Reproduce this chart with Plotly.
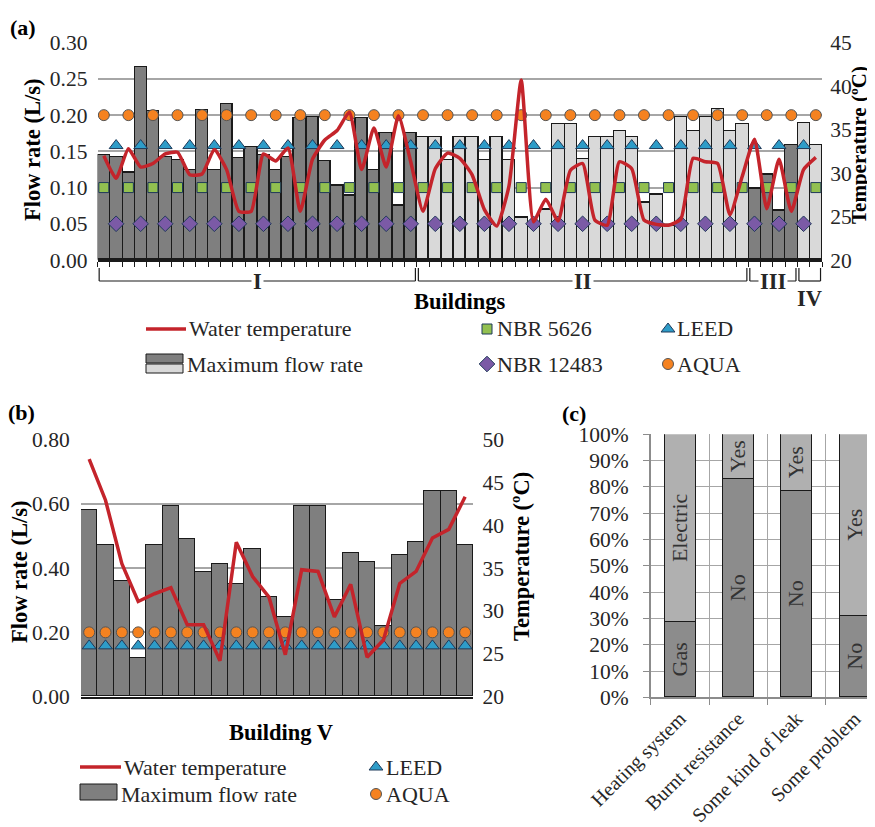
import plotly.graph_objects as go

# page body has an 8 px margin, so the figure is placed at (8, 8) in the 875x827 window
OFF = 8
FW, FH = 867, 819

# ---------------- Panel (a) data ----------------
building_names = ["I", "II", "III", "IV"]
flow_I = [0.145, 0.142, 0.120, 0.267, 0.206, 0.143, 0.139, 0.124, 0.207, 0.124, 0.216, 0.141, 0.157,
          0.145, 0.124, 0.143, 0.197, 0.198, 0.137, 0.102, 0.089, 0.197, 0.124, 0.176, 0.075, 0.176]
flow_II = [0.170, 0.170, 0.139, 0.170, 0.170, 0.139, 0.170, 0.139, 0.059, 0.050, 0.069, 0.188, 0.188, 0.140,
           0.170, 0.170, 0.179, 0.170, 0.079, 0.090, 0.048, 0.198, 0.179, 0.198, 0.209, 0.179, 0.188]
flow_III = [0.098, 0.118, 0.068, 0.159]
flow_IV = [0.189, 0.159]
temp_I = [32.0, 29.4, 32.8, 30.7, 31.1, 32.2, 32.4, 29.8, 29.9, 32.7, 30.4, 25.6, 25.6,
          32.2, 31.4, 32.9, 25.6, 31.6, 33.8, 34.9, 37.0, 30.4, 35.2, 30.7, 36.6, 31.3]
temp_II = [25.6, 30.5, 32.3, 31.7, 29.8, 25.8, 23.9, 28.5, 40.7, 24.4, 27.0, 24.5, 30.3, 31.1,
           24.6, 24.0, 31.3, 30.5, 24.6, 24.1, 24.0, 24.7, 31.7, 31.3, 31.1, 25.2, 29.6]
temp_III = [33.9, 25.9, 31.6, 25.6]
temp_IV = [30.4, 31.8]

# Reference flow rates (L/s)
AQUA = 0.20
LEED = 0.158
NBR_5626 = 0.10
NBR_12483 = 0.05

# ---------------- Panel (b) data ----------------
flow_V = [0.578, 0.470, 0.359, 0.118, 0.470, 0.591, 0.490, 0.387, 0.411, 0.350, 0.458, 0.308,
          0.247, 0.591, 0.591, 0.299, 0.447, 0.419, 0.220, 0.439, 0.480, 0.639, 0.639, 0.470]
temp_V = [47.7, 42.9, 35.5, 31.1, 32.0, 32.7, 28.4, 28.4, 24.2, 38.0, 34.0, 31.6,
          24.9, 34.8, 34.6, 29.3, 33.1, 24.6, 26.6, 33.2, 34.6, 38.5, 39.5, 43.3]

# ---------------- Panel (c) data ----------------
c_categories = ["Heating system", "Burnt resistance", "Some kind of leak", "Some problem"]
c_lower = [0.284, 0.829, 0.783, 0.307]
c_upper = [1 - v for v in c_lower]
c_lower_text = ["Gas", "No", "No", "No"]
c_upper_text = ["Electric", "Yes", "Yes", "Yes"]

# ---------------- styles ----------------
FONT = "Liberation Serif, Times New Roman, serif"
TXT = "#262626"
DARK = "#7f7f7f"
LIGHT = "#d9d9d9"
RED = "#c4242b"
ORANGE = "#f58220"
TEAL = "#2e9cc8"
GREEN = "#92c050"
PURPLE = "#7b5aa6"
GRID = "#a6a6a6"
TICK_SIZE = 21.5
LEG_SIZE = 22
TITLE_SIZE = 22.5


def px(x):
    return (x - OFF) / FW


def py(y):
    return 1 - (y - OFF) / FH


flows_by_b = [flow_I, flow_II, flow_III, flow_IV]
temps_by_b = [temp_I, temp_II, temp_III, temp_IV]
group_color = {"I": DARK, "II": LIGHT, "III": DARK, "IV": LIGHT}

flow_a, temp_a, colors_a, spans = [], [], [], []
for name, fl, tp in zip(building_names, flows_by_b, temps_by_b):
    start = len(flow_a)
    flow_a += fl
    temp_a += tp
    colors_a += [group_color[name]] * len(fl)
    spans.append((name, start, len(flow_a) - 1))
n_a = len(flow_a)
x_a = list(range(n_a))
odd_x = x_a[0::2]
even_x = x_a[1::2]

fig = go.Figure()

# ---- Panel a ----
fig.add_trace(go.Bar(x=x_a, y=flow_a, marker=dict(color=colors_a, line=dict(color="#1a1a1a", width=1.2)),
                     xaxis="x", yaxis="y", showlegend=False))
fig.add_trace(go.Scatter(x=odd_x, y=[NBR_5626] * len(odd_x), mode="markers", xaxis="x", yaxis="y",
                         marker=dict(symbol="square", size=10, color=GREEN, line=dict(color="#1f3a5a", width=1)),
                         showlegend=False))
fig.add_trace(go.Scatter(x=even_x, y=[NBR_12483] * len(even_x), mode="markers", xaxis="x", yaxis="y",
                         marker=dict(symbol="diamond", size=12, color=PURPLE, line=dict(color="#1f3a5a", width=1)),
                         showlegend=False))
fig.add_trace(go.Scatter(x=even_x, y=[LEED] * len(even_x), mode="markers", xaxis="x", yaxis="y",
                         marker=dict(symbol="triangle-up", size=12, color=TEAL, line=dict(color="#1f3a5a", width=1)),
                         showlegend=False))
fig.add_trace(go.Scatter(x=odd_x, y=[AQUA] * len(odd_x), mode="markers", xaxis="x", yaxis="y",
                         marker=dict(symbol="circle", size=11, color=ORANGE, line=dict(color="#555555", width=1)),
                         showlegend=False))
fig.add_trace(go.Scatter(x=x_a, y=temp_a, mode="lines", xaxis="x", yaxis="y2",
                         line=dict(color=RED, width=3.5, shape="spline", smoothing=0.5), showlegend=False))

# ---- Panel b ----
x_b = list(range(len(flow_V)))
fig.add_trace(go.Bar(x=x_b, y=flow_V, marker=dict(color=DARK, line=dict(color="#1a1a1a", width=1.2)),
                     xaxis="x3", yaxis="y3", showlegend=False))
fig.add_trace(go.Scatter(x=x_b, y=[LEED] * len(x_b), mode="markers", xaxis="x3", yaxis="y3",
                         marker=dict(symbol="triangle-up", size=12, color=TEAL, line=dict(color="#1f3a5a", width=1)),
                         showlegend=False))
fig.add_trace(go.Scatter(x=x_b, y=[AQUA] * len(x_b), mode="markers", xaxis="x3", yaxis="y3",
                         marker=dict(symbol="circle", size=11, color=ORANGE, line=dict(color="#555555", width=1)),
                         showlegend=False))
fig.add_trace(go.Scatter(x=x_b, y=temp_V, mode="lines", xaxis="x3", yaxis="y4",
                         line=dict(color=RED, width=3.5), showlegend=False))

# ---- Panel c ----
for vals, txt, col in ((c_lower, c_lower_text, "#8c8c8c"), (c_upper, c_upper_text, "#b0b0b0")):
    fig.add_trace(go.Bar(x=c_categories, y=vals, text=txt, width=0.53,
                         marker=dict(color=col, line=dict(color="#1a1a1a", width=1)),
                         textposition="inside", insidetextanchor="middle", textangle=-90,
                         constraintext="none",
                         textfont=dict(family=FONT, size=22, color="#333333"),
                         xaxis="x5", yaxis="y5", showlegend=False, hoverinfo="skip"))

# ---- legend markers (pixel overlay axis) ----
fig.add_trace(go.Scatter(x=[487], y=[329], mode="markers", xaxis="x9", yaxis="y9", showlegend=False,
                         marker=dict(symbol="square", size=10, color=GREEN, line=dict(color="#1f3a5a", width=1))))
fig.add_trace(go.Scatter(x=[487], y=[364], mode="markers", xaxis="x9", yaxis="y9", showlegend=False,
                         marker=dict(symbol="diamond", size=12, color=PURPLE, line=dict(color="#1f3a5a", width=1))))
fig.add_trace(go.Scatter(x=[668, 376], y=[329, 767], mode="markers", xaxis="x9", yaxis="y9", showlegend=False,
                         marker=dict(symbol="triangle-up", size=12, color=TEAL, line=dict(color="#1f3a5a", width=1))))
fig.add_trace(go.Scatter(x=[668, 376], y=[364, 794], mode="markers", xaxis="x9", yaxis="y9", showlegend=False,
                         marker=dict(symbol="circle", size=11, color=ORANGE, line=dict(color="#555555", width=1))))

tickfont = dict(family=FONT, size=TICK_SIZE, color=TXT)

fig.update_layout(
    width=FW, height=FH, margin=dict(l=0, r=0, t=0, b=0, autoexpand=False),
    paper_bgcolor="white", plot_bgcolor="rgba(0,0,0,0)",
    barmode="stack", bargap=0,
    font=dict(family=FONT, size=20, color=TXT),
    xaxis=dict(domain=[px(97.7), px(822)], range=[-0.5, n_a - 0.5], anchor="y", automargin=False,
               tickmode="array", tickvals=[i - 0.5 for i in range(n_a + 1)], showticklabels=False,
               ticks="outside", ticklen=5, tickcolor="#1a1a1a", tickwidth=1, showgrid=False,
               showline=True, linecolor="#1a1a1a", linewidth=1.5, zeroline=False),
    yaxis=dict(domain=[py(260), py(42.7)], range=[0, 0.30], dtick=0.05, tickformat=".2f", automargin=False,
               showgrid=True, gridcolor=GRID, gridwidth=1.5, zeroline=False, tickfont=tickfont,
               ticks="outside", ticklen=5, tickcolor="rgba(0,0,0,0)"),
    yaxis2=dict(overlaying="y", side="right", anchor="x", range=[20, 45], dtick=5, showgrid=False,
                automargin=False,
                zeroline=False, tickfont=tickfont, ticks="outside", ticklen=3, tickcolor="rgba(0,0,0,0)"),
    xaxis3=dict(domain=[px(81), px(473.3)], range=[-0.5, len(flow_V) - 0.5], anchor="y3", automargin=False,
                showticklabels=False, showgrid=False, zeroline=False,
                showline=True, linecolor="#1a1a1a", linewidth=1.5),
    yaxis3=dict(domain=[py(696.7), py(439.3)], range=[0, 0.80], dtick=0.20, tickformat=".2f", anchor="x3",
                automargin=False,
                showgrid=True, gridcolor=GRID, gridwidth=1.5, zeroline=False, tickfont=tickfont,
                ticks="outside", ticklen=6, tickcolor="rgba(0,0,0,0)"),
    yaxis4=dict(overlaying="y3", side="right", anchor="x3", range=[20, 50], dtick=5, showgrid=False,
                automargin=False,
                zeroline=False, tickfont=tickfont, ticks="outside", ticklen=4, tickcolor="rgba(0,0,0,0)"),
    xaxis5=dict(domain=[px(650.7), 1.0], range=[-0.5, 3.347], anchor="y5", type="category", automargin=False,
                tickson="boundaries", ticks="outside", ticklen=6, tickcolor="#8c8c8c",
                showgrid=True, gridcolor=GRID, gridwidth=1, tickangle=-45,
                tickfont=dict(family=FONT, size=20, color=TXT),
                showline=True, linecolor="#8c8c8c", linewidth=1.5),
    yaxis5=dict(domain=[py(697.3), py(434.3)], range=[0, 1], dtick=0.1, tickformat=".0%", anchor="x5",
                automargin=False,
                showgrid=True, gridcolor=GRID, gridwidth=1, zeroline=False, tickfont=tickfont,
                ticks="outside", ticklen=6, tickcolor="#8c8c8c", ticklabelstandoff=10,
                showline=True, linecolor="#8c8c8c", linewidth=1.5),
    xaxis9=dict(domain=[0, 1], range=[OFF, OFF + FW], visible=False, anchor="y9", automargin=False),
    yaxis9=dict(domain=[0, 1], range=[OFF + FH, OFF], visible=False, anchor="x9", automargin=False),
)

shapes = []
annotations = []

# building brackets under panel a
br_top, br_bot = py(268), py(281)
for name, s, e in spans:
    x0 = s - 0.5 + 0.12
    x1 = e + 0.5 - 0.12
    shapes.append(dict(type="line", xref="x", yref="paper", x0=x0, x1=x1, y0=br_bot, y1=br_bot,
                       line=dict(color="#1a1a1a", width=1.2)))
    for xx in (x0, x1):
        shapes.append(dict(type="line", xref="x", yref="paper", x0=xx, x1=xx, y0=br_top, y1=br_bot,
                           line=dict(color="#1a1a1a", width=1.2)))
    centre = (s + e) / 2
    if e - s + 1 >= 3:
        annotations.append(dict(x=centre, y=py(282), xref="x", yref="paper", text="<b>%s</b>" % name,
                                showarrow=False, bgcolor="white", borderpad=1, yanchor="middle",
                                xanchor="center", font=dict(family=FONT, size=TITLE_SIZE, color=TXT)))
    else:
        annotations.append(dict(x=centre, y=py(298), xref="x", yref="paper", text="<b>%s</b>" % name,
                                showarrow=False, yanchor="middle", xanchor="center",
                                font=dict(family=FONT, size=TITLE_SIZE, color=TXT)))


def label(x, y, text, size=LEG_SIZE, angle=0, xanchor="center", bold=False):
    annotations.append(dict(x=px(x), y=py(y), xref="paper", yref="paper", showarrow=False,
                            text=("<b>%s</b>" % text) if bold else text, textangle=angle,
                            xanchor=xanchor, yanchor="middle",
                            font=dict(family=FONT, size=size, color="#000000" if bold else TXT)))


label(23, 27, "(a)", size=22, bold=True)
label(22, 412, "(b)", size=22, bold=True)
label(574, 413, "(c)", size=22, bold=True)
label(32, 150, "Flow rate (L/s)", size=TITLE_SIZE, angle=-90, bold=True)
label(859, 145, "Temperature (ºC)", size=21, angle=-90, bold=True)
label(460, 301, "Buildings", size=TITLE_SIZE, bold=True)
label(19, 572, "Flow rate (L/s)", size=TITLE_SIZE, angle=-90, bold=True)
label(521, 557, "Temperature (ºC)", size=TITLE_SIZE, angle=-90, bold=True)
label(281, 732, "Building V", size=TITLE_SIZE, bold=True)

# legend (a)
shapes.append(dict(type="line", xref="paper", yref="paper", x0=px(146), x1=px(186), y0=py(329), y1=py(329),
                   line=dict(color=RED, width=3.5)))
shapes.append(dict(type="rect", xref="paper", yref="paper", x0=px(146), x1=px(183), y0=py(363), y1=py(354),
                   fillcolor=DARK, line=dict(color="#1a1a1a", width=1)))
shapes.append(dict(type="rect", xref="paper", yref="paper", x0=px(146), x1=px(183), y0=py(373), y1=py(364),
                   fillcolor=LIGHT, line=dict(color="#1a1a1a", width=1)))
label(187, 329, "Water temperature", xanchor="left")
label(185, 364, "Maximum flow rate", xanchor="left")
label(495, 329, "NBR 5626", xanchor="left")
label(495, 364, "NBR 12483", xanchor="left")
label(675, 329, "LEED", xanchor="left")
label(675, 364, "AQUA", xanchor="left")

# legend (b)
shapes.append(dict(type="line", xref="paper", yref="paper", x0=px(80), x1=px(121), y0=py(767), y1=py(767),
                   line=dict(color=RED, width=3.5)))
shapes.append(dict(type="rect", xref="paper", yref="paper", x0=px(80), x1=px(117), y0=py(800), y1=py(784),
                   fillcolor=DARK, line=dict(color="#1a1a1a", width=1)))
label(122, 767, "Water temperature", xanchor="left")
label(119, 794, "Maximum flow rate", xanchor="left")
label(384, 767, "LEED", xanchor="left")
label(384, 794, "AQUA", xanchor="left")

fig.update_layout(shapes=shapes, annotations=annotations)
fig.write_html("out.html")
